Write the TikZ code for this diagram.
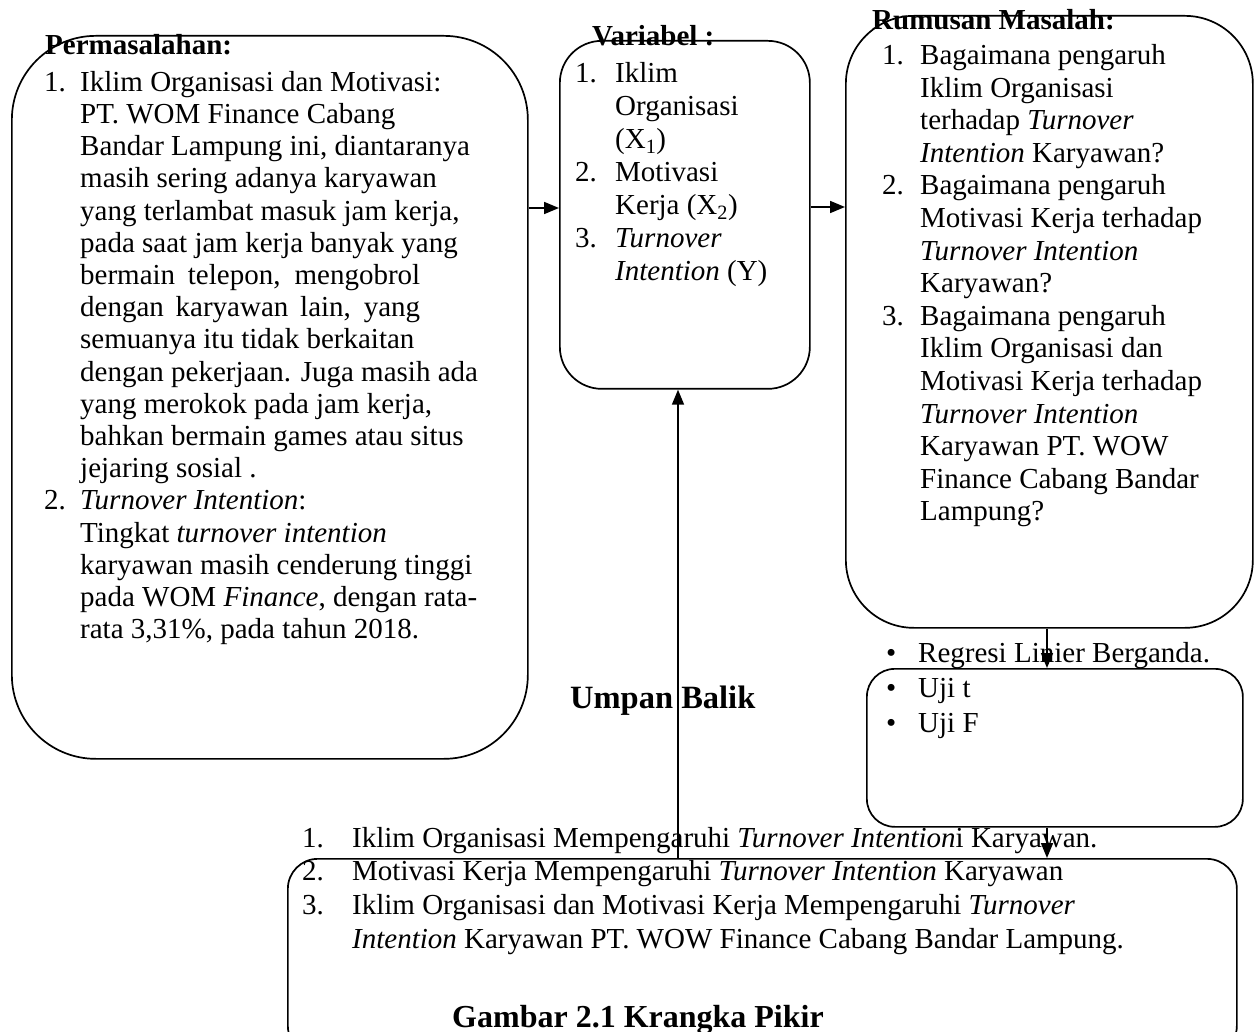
\documentclass[tikz,border=0pt]{standalone}
\usepackage{fontspec}
\setmainfont{Liberation Serif}
\usetikzlibrary{arrows.meta}
\newcommand\myitem[2]{\makebox[#1][l]{#2}}
\newcommand\mycont[1]{\hspace*{#1}}
\begin{document}
\begin{tikzpicture}[x=1pt,y=-1pt,
  box/.style={draw, line width=1.7pt, anchor=north west, inner sep=0pt},
  arr/.style={line width=1.7pt, -{Triangle[length=15pt,width=12pt]}},
  txt/.style={inner sep=0pt, anchor=north west, align=left},
  head/.style={inner sep=0pt, anchor=base west, font=\fontsize{29}{32}\selectfont\bfseries}]
\useasboundingbox (0,0) rectangle (1254,1032);
\fill[white] (0,0) rectangle (1254,1032);

% boxes
\node[box, minimum width=516pt, minimum height=723pt, rounded corners=84pt] (perm) at (11,35) {};
\node[box, minimum width=250pt, minimum height=348pt, rounded corners=42pt] (var) at (559,40) {};
\node[box, minimum width=407pt, minimum height=612pt, rounded corners=68pt] (rum) at (845,15) {};
\node[box, minimum width=376pt, minimum height=158pt, rounded corners=28pt] (uji) at (866,668) {};
\node[box, minimum width=949pt, minimum height=197pt, rounded corners=30pt] (bot) at (287,858) {};

% headings
\node[head] (h1) at (45,55) {Permasalahan:};
\node[head] (h2) at (592,46) {Variabel :};
\node[head] (h3) at (872,30) {Rumusan Masalah:};
\node[inner sep=0pt, anchor=base west, font=\fontsize{32.5}{36}\selectfont\bfseries] (ub) at (570,708) {Umpan Balik};
\node[inner sep=0pt, anchor=base west, font=\fontsize{32}{36}\selectfont\bfseries] (cap) at (452,1027) {Gambar 2.1 Krangka Pikir};

% left list
\node[txt, font=\fontsize{29}{32.2}\selectfont] (t1) at (44,68.5) {%
\strut\myitem{36pt}{1.}Iklim Organisasi dan Motivasi:\\
\mycont{36pt}PT. WOM Finance Cabang\\
\mycont{36pt}Bandar Lampung ini, diantaranya\\
\mycont{36pt}masih sering adanya karyawan\\
\mycont{36pt}yang terlambat masuk jam kerja,\\
\mycont{36pt}pada saat jam kerja banyak yang\\
\mycont{36pt}\makebox[340pt][s]{bermain telepon, mengobrol}\\
\mycont{36pt}\makebox[340pt][s]{dengan karyawan lain, yang}\\
\mycont{36pt}semuanya itu tidak berkaitan\\
\mycont{36pt}dengan pekerjaan. Juga masih ada\\
\mycont{36pt}yang merokok pada jam kerja,\\
\mycont{36pt}bahkan bermain games atau situs\\
\mycont{36pt}jejaring sosial .\\
\myitem{36pt}{2.}\textit{Turnover Intention}:\\
\mycont{36pt}Tingkat \textit{turnover intention}\\
\mycont{36pt}karyawan masih cenderung tinggi\\
\mycont{36pt}pada WOM \textit{Finance}, dengan rata-\\
\mycont{36pt}rata 3,31\%, pada tahun 2018.};

% variabel list
\node[txt, font=\fontsize{29}{33}\selectfont] (t2) at (575,58.9) {%
\strut\myitem{40pt}{1.}Iklim\\
\mycont{40pt}Organisasi\\
\mycont{40pt}(X\textsubscript{1})\\
\myitem{40pt}{2.}Motivasi\\
\mycont{40pt}Kerja (X\textsubscript{2})\\
\myitem{40pt}{3.}\textit{Turnover}\\
\mycont{40pt}\textit{Intention} (Y)};

% rumusan list
\node[txt, font=\fontsize{29}{32.6}\selectfont] (t3) at (882,41.5) {%
\strut\myitem{38pt}{1.}Bagaimana pengaruh\\
\mycont{38pt}Iklim Organisasi\\
\mycont{38pt}terhadap \textit{Turnover}\\
\mycont{38pt}\textit{Intention} Karyawan?\\
\myitem{38pt}{2.}Bagaimana pengaruh\\
\mycont{38pt}Motivasi Kerja terhadap\\
\mycont{38pt}\textit{Turnover Intention}\\
\mycont{38pt}Karyawan?\\
\myitem{38pt}{3.}Bagaimana pengaruh\\
\mycont{38pt}Iklim Organisasi dan\\
\mycont{38pt}Motivasi Kerja terhadap\\
\mycont{38pt}\textit{Turnover Intention}\\
\mycont{38pt}Karyawan PT. WOW\\
\mycont{38pt}Finance Cabang Bandar\\
\mycont{38pt}Lampung?};

% uji list
\node[txt, font=\fontsize{29}{35.2}\selectfont] (t4) at (886,637.4) {%
\strut\myitem{32pt}{\textbullet}Regresi Linier Berganda.\\
\myitem{32pt}{\textbullet}Uji t\\
\myitem{32pt}{\textbullet}Uji F};

% bottom list
\node[txt, font=\fontsize{29}{33.7}\selectfont] (t5) at (302,823.4) {%
\strut\myitem{50pt}{1.}Iklim Organisasi Mempengaruhi \textit{Turnover Intention}i Karyawan.\\
\myitem{50pt}{2.}Motivasi Kerja Mempengaruhi \textit{Turnover Intention} Karyawan\\
\myitem{50pt}{3.}Iklim Organisasi dan Motivasi Kerja Mempengaruhi \textit{Turnover}\\
\mycont{50pt}\textit{Intention} Karyawan PT. WOW Finance Cabang Bandar Lampung.};

% connectors
\coordinate (a1) at (0,208);
\coordinate (a2) at (0,207);
\coordinate (fb) at (678,0);
\coordinate (dn) at (1047,0);
\draw[arr] (perm.east |- a1) -- (var.west |- a1);
\draw[arr] (var.east |- a2) -- (rum.west |- a2);
\draw[arr] (bot.north -| fb) -- (var.south -| fb);
\draw[arr] (rum.south -| dn) -- (uji.north -| dn);
\draw[arr] (uji.south -| dn) -- (bot.north -| dn);
\end{tikzpicture}
\end{document}
